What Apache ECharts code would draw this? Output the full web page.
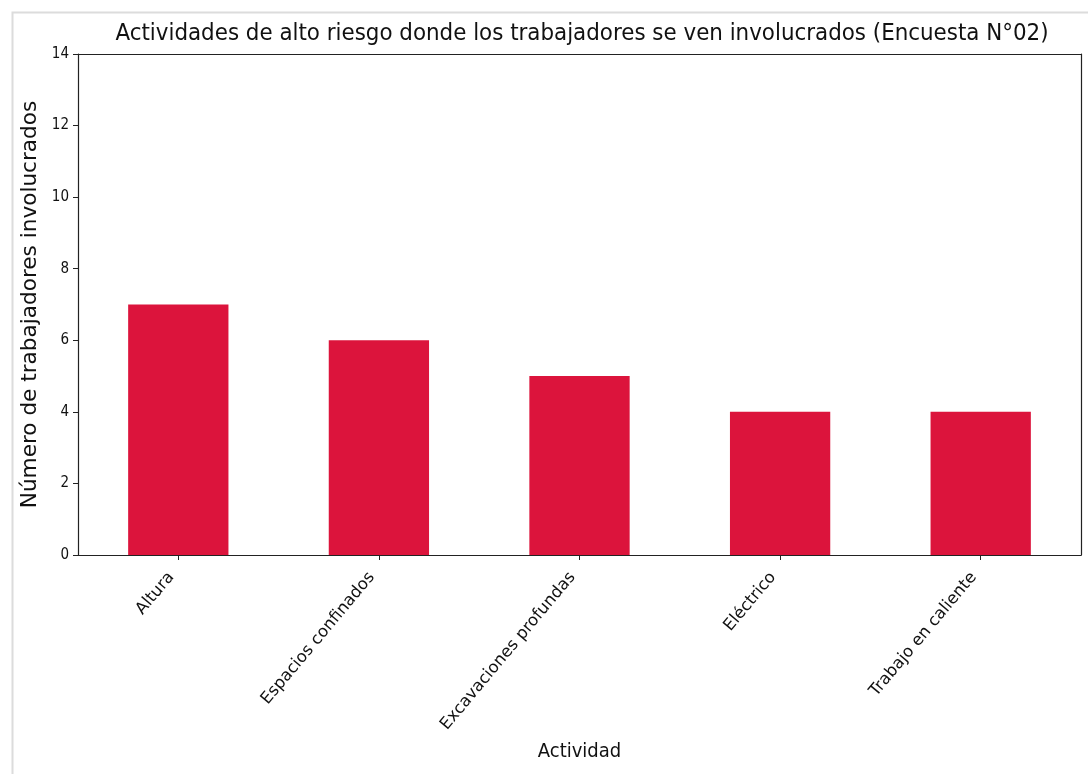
<!DOCTYPE html>
<html><head><meta charset="utf-8">
<script src="https://cdn.jsdelivr.net/npm/echarts@6/dist/echarts.min.js"></script>
<style>html,body{margin:0;padding:0;background:#fff}#c{width:1088px;height:774px}</style>
</head><body><div id="c"></div>
<script>
const categories = ["Altura", "Espacios confinados", "Excavaciones profundas", "Eléctrico", "Trabajo en caliente"];
const values = [7, 6, 5, 4, 4];
const yTicks = [0, 2, 4, 6, 8, 10, 12, 14];
const titleText = "Actividades de alto riesgo donde los trabajadores se ven involucrados (Encuesta N°02)";
const xTitle = "Actividad";
const yTitle = "Número de trabajadores involucrados";

const FONT_C = "DejaVu Sans Condensed";
const FONT = "DejaVu Sans";
const spine = {show: true, onZero: false, lineStyle: {color: '#222', width: 1.2}};
const chart = echarts.init(document.getElementById('c'), null, {renderer: 'canvas'});
chart.setOption({
  backgroundColor: '#fff',
  animation: false,
  graphic: [{
    type: 'rect', left: 10, top: 10,
    shape: {width: 1100, height: 800},
    style: {fill: 'none', stroke: '#dcdcdc', lineWidth: 2}, silent: true
  }],
  title: {
    text: titleText, left: 577, top: 17, textAlign: 'center',
    textStyle: {fontFamily: FONT_C, fontSize: 23.8, fontWeight: 'normal', color: '#111'}
  },
  grid: {left: 78, right: 7, top: 54, bottom: 219, containLabel: false},
  xAxis: [{
    type: 'category', data: categories,
    name: xTitle, nameLocation: 'middle', nameGap: 187,
    nameTextStyle: {fontFamily: FONT_C, fontSize: 20, color: '#111'},
    axisLine: spine,
    axisTick: {show: true, alignWithLabel: true, length: 5, lineStyle: {color: '#222'}},
    axisLabel: {rotate: 50, interval: 0, margin: 11, padding: [0, 11, 0, 0],
      fontFamily: FONT, fontSize: 16.5, color: '#111'},
    splitLine: {show: false}
  }, {
    type: 'category', position: 'top', data: categories,
    axisLine: spine, axisTick: {show: false}, axisLabel: {show: false}
  }],
  yAxis: [{
    type: 'value', min: 0, max: 14, interval: 2,
    name: yTitle, nameLocation: 'middle', nameGap: 37, nameRotate: 90,
    nameTextStyle: {fontFamily: FONT, fontSize: 21.6, color: '#111'},
    axisLine: spine,
    axisTick: {show: true, length: 5, lineStyle: {color: '#222'}},
    axisLabel: {margin: 9, fontFamily: FONT_C, fontSize: 15, color: '#111',
      formatter: v => yTicks.includes(v) ? String(v) : ''},
    splitLine: {show: false}
  }, {
    type: 'value', position: 'right', min: 0, max: 14, interval: 2,
    axisLine: spine, axisTick: {show: false}, axisLabel: {show: false}, splitLine: {show: false}
  }],
  series: [{
    type: 'bar', data: values, barWidth: '50%',
    itemStyle: {color: '#DC143C'}
  }]
});
</script></body></html>
